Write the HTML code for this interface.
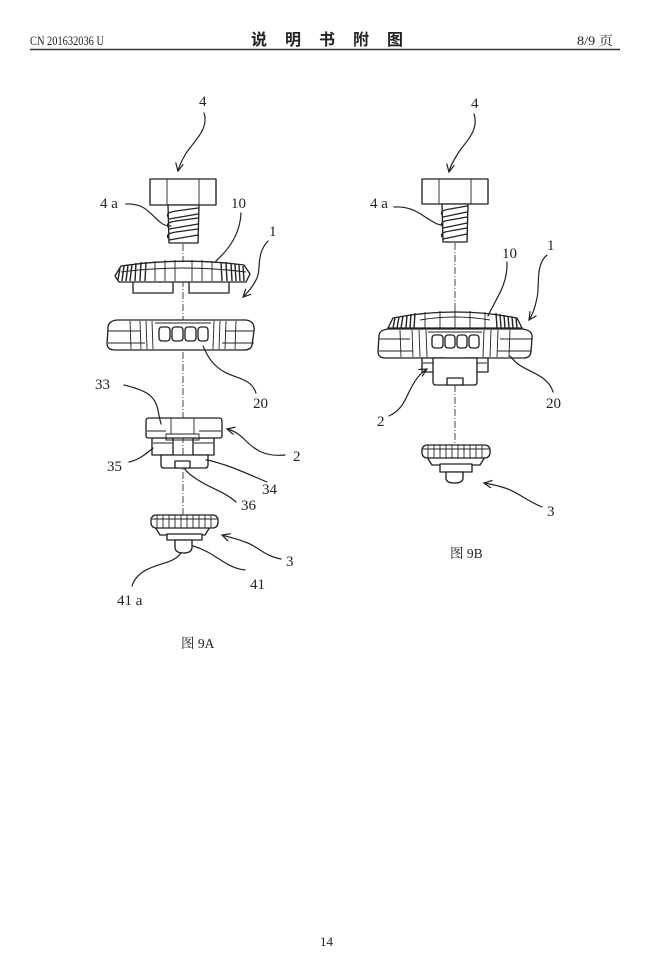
<!DOCTYPE html>
<html><head><meta charset="utf-8"><style>
html,body{margin:0;padding:0;background:#fff;}
svg{display:block;}
text{font-family:"Liberation Serif","Noto Serif CJK SC",serif;fill:#222;}
.s{fill:none;stroke:#222;stroke-width:1.2;stroke-linecap:round;stroke-linejoin:round;}
.f{fill:#fff;stroke:#222;stroke-width:1.35;stroke-linejoin:round;}
.t{fill:none;stroke:#222;stroke-width:0.9;}
.d{fill:none;stroke:#333;stroke-width:0.9;stroke-dasharray:7 2 1 2;}
.lb{font-size:15px;}
</style></head><body>
<svg width="660" height="965" viewBox="0 0 660 965" xmlns="http://www.w3.org/2000/svg">
<defs>
<marker id="ar" markerWidth="10" markerHeight="10" refX="8" refY="4" orient="auto" markerUnits="userSpaceOnUse">
<path d="M0,0 L8,4 L0,8" fill="none" stroke="#222" stroke-width="1.2"/>
</marker>
</defs>

<!-- header -->
<text x="30" y="45" font-size="12.5" textLength="74" lengthAdjust="spacingAndGlyphs">CN 201632036 U</text>
<text x="251" y="45" font-size="16" font-weight="bold" style="font-family:'Noto Sans CJK SC',sans-serif" textLength="152" lengthAdjust="spacing">说明书附图</text>
<text x="577" y="45" font-size="12.5" textLength="36" lengthAdjust="spacingAndGlyphs">8/9 页</text>
<line x1="30" y1="49.5" x2="620" y2="49.5" stroke="#333" stroke-width="1.6"/>

<!-- ============ FIG 9A ============ -->
<line class="d" x1="183" y1="244" x2="183" y2="515"/>

<text class="lb" x="199" y="106">4</text>
<path class="s" d="M204,113 C210,130 190,145 185,155 C181,162 179,166 178,171" marker-end="url(#ar)"/>

<!-- bolt -->
<rect class="f" x="150" y="179" width="66" height="26"/>
<line class="t" x1="167" y1="179" x2="167" y2="205"/>
<line class="t" x1="199" y1="179" x2="199" y2="205"/>
<path class="f" d="M168,205 L199,205 L198,243 L169,243 Z"/>
<path class="s" d="M168,217 C166,213 170,212 176,211 L198,208"/>
<path class="s" d="M169,219 L198,214"/>
<path class="s" d="M168,227 C166,223 170,222 176,221 L198,218"/>
<path class="s" d="M169,229 L198,224"/>
<path class="s" d="M168,238 C166,234 170,233 176,232 L198,229"/>
<path class="s" d="M169,240 L198,235"/>
<text class="lb" x="100" y="208">4 a</text>
<path class="s" d="M126,204 C145,203 150,214 160,222 C163,225 166,226 171,226"/>

<!-- ring 10 -->
<rect class="f" x="133" y="280" width="40" height="13"/>
<rect class="f" x="189" y="280" width="40" height="13"/>
<path class="f" d="M115,276 L121,266 Q183,257 244,265 L250,274 L246,282 L119,282 Z"/>
<path class="t" d="M121,272 Q183,264 246,272"/>
<g stroke="#222" stroke-width="1.4">
<line x1="120" y1="268" x2="118" y2="280"/><line x1="124" y1="266" x2="122" y2="281"/>
<line x1="128" y1="265" x2="126" y2="281"/><line x1="132" y1="264" x2="130" y2="281"/>
<line x1="136" y1="263" x2="135" y2="281"/><line x1="141" y1="262" x2="140" y2="281"/>
<line x1="146" y1="262" x2="145" y2="281"/>
<line x1="221" y1="262" x2="222" y2="281"/><line x1="226" y1="262" x2="227" y2="281"/>
<line x1="231" y1="263" x2="232" y2="281"/><line x1="235" y1="264" x2="236" y2="281"/>
<line x1="239" y1="265" x2="240" y2="281"/><line x1="243" y1="266" x2="244" y2="281"/>
</g>
<g class="t">
<line x1="155" y1="261" x2="155" y2="281"/><line x1="165" y1="260" x2="165" y2="281"/>
<line x1="175" y1="260" x2="175" y2="281"/><line x1="192" y1="260" x2="192" y2="281"/>
<line x1="202" y1="260" x2="202" y2="281"/><line x1="212" y1="261" x2="212" y2="281"/>
</g>
<text class="lb" x="231" y="208">10</text>
<path class="s" d="M241,213 C240,235 228,250 216,261"/>
<text class="lb" x="269" y="236">1</text>
<path class="s" d="M268,241 C255,255 262,270 256,280 C252,288 248,292 243,297" marker-end="url(#ar)"/>

<!-- ring 20 -->
<path class="f" d="M108,330 Q107,321 117,320 L246,320 Q255,321 254,331 L252,345 Q251,350 244,350 L115,350 Q107,350 107,343 Z"/>
<path class="t" d="M108,331 L140,331 M254,331 L225,331 M108,343 L145,343 M254,343 L222,343"/>
<g class="t">
<line x1="130" y1="321" x2="131" y2="349"/><line x1="140" y1="321" x2="141" y2="349"/>
<line x1="146" y1="321" x2="147" y2="349"/><line x1="152" y1="321" x2="153" y2="349"/>
<line x1="214" y1="321" x2="213" y2="349"/><line x1="220" y1="321" x2="219" y2="349"/>
<line x1="226" y1="321" x2="225" y2="349"/><line x1="236" y1="321" x2="235" y2="349"/>
<line x1="155" y1="323" x2="211" y2="323"/>
</g>
<rect class="f" x="159" y="327" width="11" height="14" rx="3"/>
<rect class="f" x="172" y="327" width="11" height="14" rx="3"/>
<rect class="f" x="185" y="327" width="11" height="14" rx="3"/>
<rect class="f" x="198" y="327" width="10" height="14" rx="3"/>
<text class="lb" x="253" y="408">20</text>
<path class="s" d="M256,393 C250,375 230,380 215,365 C208,358 206,352 203,346"/>

<!-- part 2 -->
<rect class="f" x="152" y="438" width="21" height="17"/>
<rect class="f" x="193" y="438" width="21" height="17"/>
<line class="t" x1="153" y1="443" x2="172" y2="443"/><line class="t" x1="194" y1="443" x2="213" y2="443"/>
<path class="f" d="M146,421 Q146,418 149,418 L219,418 Q222,418 222,421 L222,436 Q222,438 219,438 L149,438 Q146,438 146,436 Z"/>
<path class="t" d="M171,418 L171,434 M194,418 L194,434 M166,434 L199,434 L199,440 L166,440 Z"/>
<path class="t" d="M147,431 L166,431 M199,431 L221,431"/>
<path class="f" d="M161,455 L161,465 Q161,468 164,468 L205,468 Q208,468 208,465 L208,455 Z"/>
<rect class="f" x="175" y="461" width="15" height="7"/>
<text class="lb" x="95" y="389">33</text>
<path class="s" d="M124,385 C145,390 155,395 158,410 C159,416 160,420 161,424"/>
<text class="lb" x="293" y="461">2</text>
<path class="s" d="M285,455 C265,457 255,450 245,440 C240,435 235,431 227,429" marker-end="url(#ar)"/>
<text class="lb" x="107" y="471">35</text>
<path class="s" d="M129,462 C138,460 145,455 153,448"/>
<text class="lb" x="262" y="494">34</text>
<path class="s" d="M267,482 C250,475 240,470 225,465 C215,462 210,460 206,460"/>
<text class="lb" x="241" y="510">36</text>
<path class="s" d="M236,502 C225,492 210,488 198,480 C190,475 186,471 184,468"/>

<!-- part 3 -->
<path class="f" d="M155,527 L210,527 L205,535 L160,535 Z"/>
<rect class="f" x="167" y="534" width="35" height="6"/>
<path class="f" d="M175,540 L192,540 L192,547 Q192,553 183.5,553 Q175,553 175,547 Z"/>
<rect class="f" x="151" y="515" width="67" height="13" rx="5"/>
<g class="t">
<line x1="157" y1="515" x2="157" y2="528"/><line x1="163" y1="515" x2="163" y2="528"/>
<line x1="169" y1="515" x2="169" y2="528"/><line x1="175" y1="515" x2="175" y2="528"/>
<line x1="181" y1="515" x2="181" y2="528"/><line x1="187" y1="515" x2="187" y2="528"/>
<line x1="193" y1="515" x2="193" y2="528"/><line x1="199" y1="515" x2="199" y2="528"/>
<line x1="205" y1="515" x2="205" y2="528"/><line x1="211" y1="515" x2="211" y2="528"/>
<line x1="152" y1="519" x2="217" y2="519"/>
</g>
<text class="lb" x="286" y="566">3</text>
<path class="s" d="M281,559 C262,555 258,546 245,542 C235,538 228,537 222,535" marker-end="url(#ar)"/>
<text class="lb" x="250" y="589">41</text>
<path class="s" d="M245,570 C225,568 215,552 193,546"/>
<text class="lb" x="117" y="605">41 a</text>
<path class="s" d="M132,586 C137,570 155,566 168,562 C176,559 179,556 181,553"/>
<text x="181" y="648" font-size="13.5">图 9A</text>

<!-- ============ FIG 9B ============ -->
<line class="d" x1="455" y1="243" x2="455" y2="312"/>
<line class="d" x1="455" y1="385" x2="455" y2="445"/>

<text class="lb" x="471" y="108">4</text>
<path class="s" d="M474,114 C480,132 462,145 457,155 C452,163 450,167 449,172" marker-end="url(#ar)"/>
<rect class="f" x="422" y="179" width="66" height="25"/>
<line class="t" x1="439" y1="179" x2="439" y2="204"/>
<line class="t" x1="471" y1="179" x2="471" y2="204"/>
<path class="f" d="M442,204 L468,204 L467,242 L443,242 Z"/>
<path class="s" d="M442,215 C440,211 444,210 450,209 L467,206"/>
<path class="s" d="M443,217 L467,212"/>
<path class="s" d="M442,226 C440,222 444,221 450,220 L467,217"/>
<path class="s" d="M443,228 L467,223"/>
<path class="s" d="M442,237 C440,233 444,232 450,231 L467,228"/>
<path class="s" d="M443,239 L467,234"/>
<text class="lb" x="370" y="208">4 a</text>
<path class="s" d="M394,207 C412,206 420,214 430,220 C435,223 438,225 443,225"/>

<!-- assembly ring 10 + 20 -->
<path class="f" d="M388,328 L393,318 Q455,306 517,318 L522,328 Z"/>
<g stroke="#222" stroke-width="1.4">
<line x1="395" y1="318" x2="393" y2="328"/><line x1="399" y1="317" x2="397" y2="328"/>
<line x1="403" y1="316" x2="401" y2="328"/><line x1="407" y1="315" x2="406" y2="328"/>
<line x1="411" y1="314" x2="410" y2="328"/><line x1="415" y1="313" x2="414" y2="328"/>
<line x1="496" y1="313" x2="497" y2="328"/><line x1="500" y1="314" x2="501" y2="328"/>
<line x1="504" y1="315" x2="505" y2="328"/><line x1="508" y1="316" x2="509" y2="328"/>
<line x1="512" y1="317" x2="513" y2="328"/><line x1="516" y1="318" x2="517" y2="328"/>
</g>
<g class="t">
<line x1="425" y1="312" x2="425" y2="328"/><line x1="440" y1="311" x2="440" y2="328"/>
<line x1="455" y1="310" x2="455" y2="328"/><line x1="470" y1="311" x2="470" y2="328"/>
<line x1="485" y1="312" x2="485" y2="328"/>
<path d="M420,320 Q455,314 490,320"/>
</g>
<path class="f" d="M379,336 Q379,330 388,329 L522,329 Q533,330 532,338 L531,352 Q530,358 524,358 L386,358 Q378,358 378,352 Z"/>
<path class="t" d="M379,339 L410,339 M532,339 L500,339 M379,351 L413,351 M531,351 L497,351"/>
<g class="t">
<line x1="400" y1="330" x2="401" y2="357"/><line x1="412" y1="330" x2="413" y2="357"/>
<line x1="419" y1="330" x2="420" y2="357"/><line x1="426" y1="330" x2="427" y2="357"/>
<line x1="484" y1="330" x2="483" y2="357"/><line x1="491" y1="330" x2="490" y2="357"/>
<line x1="498" y1="330" x2="497" y2="357"/><line x1="510" y1="330" x2="509" y2="357"/>
<line x1="428" y1="332" x2="482" y2="332"/>
</g>
<rect class="f" x="432" y="335" width="11" height="13" rx="3"/>
<rect class="f" x="445" y="335" width="10" height="13" rx="3"/>
<rect class="f" x="457" y="335" width="10" height="13" rx="3"/>
<rect class="f" x="469" y="335" width="10" height="13" rx="3"/>
<!-- part 2 under -->
<rect class="f" x="422" y="358" width="22" height="14"/>
<rect class="f" x="466" y="358" width="22" height="14"/>
<line class="t" x1="423" y1="363" x2="443" y2="363"/><line class="t" x1="467" y1="363" x2="487" y2="363"/>
<path class="f" d="M433,358 L477,358 L477,382 Q477,385 474,385 L436,385 Q433,385 433,382 Z"/>
<rect class="f" x="447" y="378" width="16" height="7"/>
<text class="lb" x="502" y="258">10</text>
<path class="s" d="M507,262 C508,285 495,300 488,316"/>
<text class="lb" x="547" y="250">1</text>
<path class="s" d="M547,255 C535,265 540,285 537,298 C535,308 533,314 529,320" marker-end="url(#ar)"/>
<text class="lb" x="546" y="408">20</text>
<path class="s" d="M553,392 C548,375 528,372 518,364 C514,361 512,358 510,356"/>
<text class="lb" x="377" y="426">2</text>
<path class="s" d="M389,416 C402,410 405,400 410,390 C415,380 420,373 427,369" marker-end="url(#ar)"/>

<!-- part 3 right -->
<path class="f" d="M427,457 L485,457 L480,465 L432,465 Z"/>
<rect class="f" x="440" y="464" width="32" height="8"/>
<path class="f" d="M446,472 L463,472 L463,478 Q463,483 454.5,483 Q446,483 446,478 Z"/>
<rect class="f" x="422" y="445" width="68" height="13" rx="5"/>
<g class="t">
<line x1="428" y1="445" x2="428" y2="458"/><line x1="434" y1="445" x2="434" y2="458"/>
<line x1="440" y1="445" x2="440" y2="458"/><line x1="446" y1="445" x2="446" y2="458"/>
<line x1="452" y1="445" x2="452" y2="458"/><line x1="458" y1="445" x2="458" y2="458"/>
<line x1="464" y1="445" x2="464" y2="458"/><line x1="470" y1="445" x2="470" y2="458"/>
<line x1="476" y1="445" x2="476" y2="458"/><line x1="482" y1="445" x2="482" y2="458"/>
<line x1="423" y1="449" x2="489" y2="449"/>
</g>
<text class="lb" x="547" y="516">3</text>
<path class="s" d="M542,507 C525,500 518,492 505,488 C496,485 490,484 484,483" marker-end="url(#ar)"/>
<text x="450" y="558" font-size="13.5">图 9B</text>

<!-- page number -->
<text x="320" y="946" font-size="13">14</text>
</svg>
</body></html>
